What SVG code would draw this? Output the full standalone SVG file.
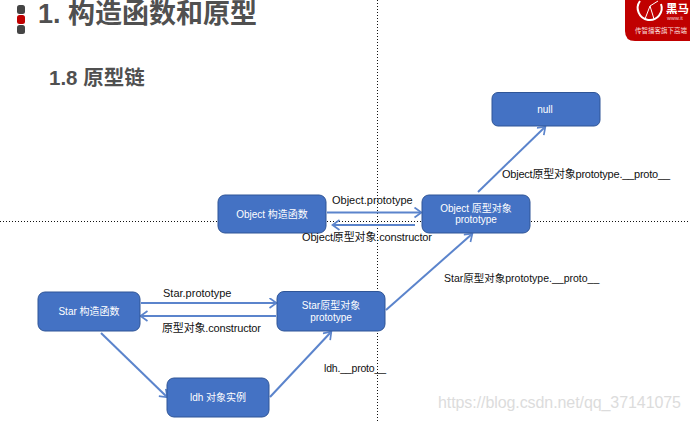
<svg xmlns="http://www.w3.org/2000/svg" width="690" height="421" viewBox="0 0 690 421">
<defs>
<style>
text{font-family:"Liberation Sans","Noto Sans CJK SC",sans-serif}
.node{fill:#4472c4;stroke:#2f5597;stroke-width:1}
.nt{fill:#fff;font-size:10px;text-anchor:middle}
.lb{fill:#111;font-size:10.5px}
.lw{fill:#111;font-size:11px}
.con{fill:none;stroke:#5b84cc;stroke-width:2;marker-end:url(#a)}
.dot{stroke:#111;stroke-width:1;stroke-dasharray:1 2;fill:none}
.h{fill:#505050;font-weight:bold}
</style>
<marker id="a" markerUnits="userSpaceOnUse" markerWidth="12" markerHeight="12" refX="9.5" refY="5.5" orient="auto"><path d="M3 .5L10 5.5L3 10.5" fill="none" stroke="#5b84cc" stroke-width="1.7"/></marker>
</defs>
<rect width="690" height="421" fill="#fff"/>
<g id="dots">
<line class="dot" x1="0" y1="221.5" x2="690" y2="221.5"/>
<line class="dot" x1="377.500" y1="0" x2="377.500" y2="421"/>
</g>
<g id="header">
<rect x="17" y="5" width="8" height="9" rx="2.500" fill="#454545"/>
<rect x="17" y="15" width="8" height="9" rx="2.500" fill="#c00000"/>
<rect x="17" y="25" width="8" height="9" rx="2.500" fill="#454545"/>
<text class="h" x="38" y="23" font-size="27">1. 构造函数和原型</text>
<text class="h" x="49" y="85" font-size="20.500">1.8 原型链</text>
</g>
<g id="logo">
<path d="M625 0H690V41H635Q625 41 625 31Z" fill="#c00000"/>
<path d="M640 1A12 12 0 1 0 661 4" fill="none" stroke="#fff" stroke-width="2"/>
<path d="M645 19L650 6L654 19M650 6L658 1" fill="none" stroke="#fff" stroke-width="1"/>
<text x="666" y="13" font-size="11.500" font-weight="bold" fill="#fff">黑马</text>
<text x="667" y="20" font-size="5.500" fill="#f4cccc">www.it</text>
<text x="635" y="33" font-size="6.500" fill="#f8dcdc">传智播客旗下高端</text>
</g>
<g id="connectors">
<line class="con" x1="141" y1="303" x2="276" y2="303"/>
<line class="con" x1="276" y1="316" x2="141" y2="316"/>
<line class="con" x1="327" y1="212.500" x2="421" y2="212.500"/>
<line class="con" x1="415" y1="225" x2="333" y2="225"/>
<line class="con" x1="101" y1="333" x2="167" y2="397"/>
<line class="con" x1="270" y1="397" x2="331" y2="332"/>
<line class="con" x1="386" y1="310" x2="472" y2="234"/>
<line class="con" x1="478" y1="192" x2="545" y2="127"/>
</g>
<g id="null"><rect class="node" x="492" y="92.500" width="108" height="33.500" rx="6"/><text class="nt" x="545" y="113">null</text></g>
<g id="object-ctor"><rect class="node" x="218" y="195" width="108" height="38" rx="7"/><text class="nt" x="272" y="218">Object 构造函数</text></g>
<g id="object-proto"><rect class="node" x="422" y="195" width="108" height="38" rx="7"/><text class="nt" x="476" y="212">Object 原型对象</text><text class="nt" x="476" y="223">prototype</text></g>
<g id="star-ctor"><rect class="node" x="38" y="292" width="102" height="39" rx="7"/><text class="nt" x="89" y="315">Star 构造函数</text></g>
<g id="star-proto"><rect class="node" x="277" y="291.500" width="108" height="39.500" rx="7"/><text class="nt" x="331" y="309">Star原型对象</text><text class="nt" x="331" y="321">prototype</text></g>
<g id="ldh"><rect class="node" x="167" y="378" width="102" height="39" rx="7"/><text class="nt" x="218" y="401">ldh 对象实例</text></g>
<g id="labels">
<text class="lw" x="332" y="204">Object.prototype</text>
<text class="lw" x="302" y="241" textLength="130">Object原型对象.constructor</text>
<text class="lw" x="502" y="178" textLength="168">Object原型对象prototype.__proto__</text>
<text class="lb" x="444" y="282">Star原型对象prototype.__proto__</text>
<text class="lw" x="163" y="297">Star.prototype</text>
<text class="lw" x="162" y="332" textLength="99">原型对象.constructor</text>
<text class="lb" x="324" y="372" textLength="62">ldh.__proto__</text>
</g>
<text id="watermark" x="438" y="408" font-size="16" fill="#dcdcdc" textLength="243" style="font-family:'Liberation Sans',sans-serif">https://blog.csdn.net/qq_37141075</text>
</svg>
